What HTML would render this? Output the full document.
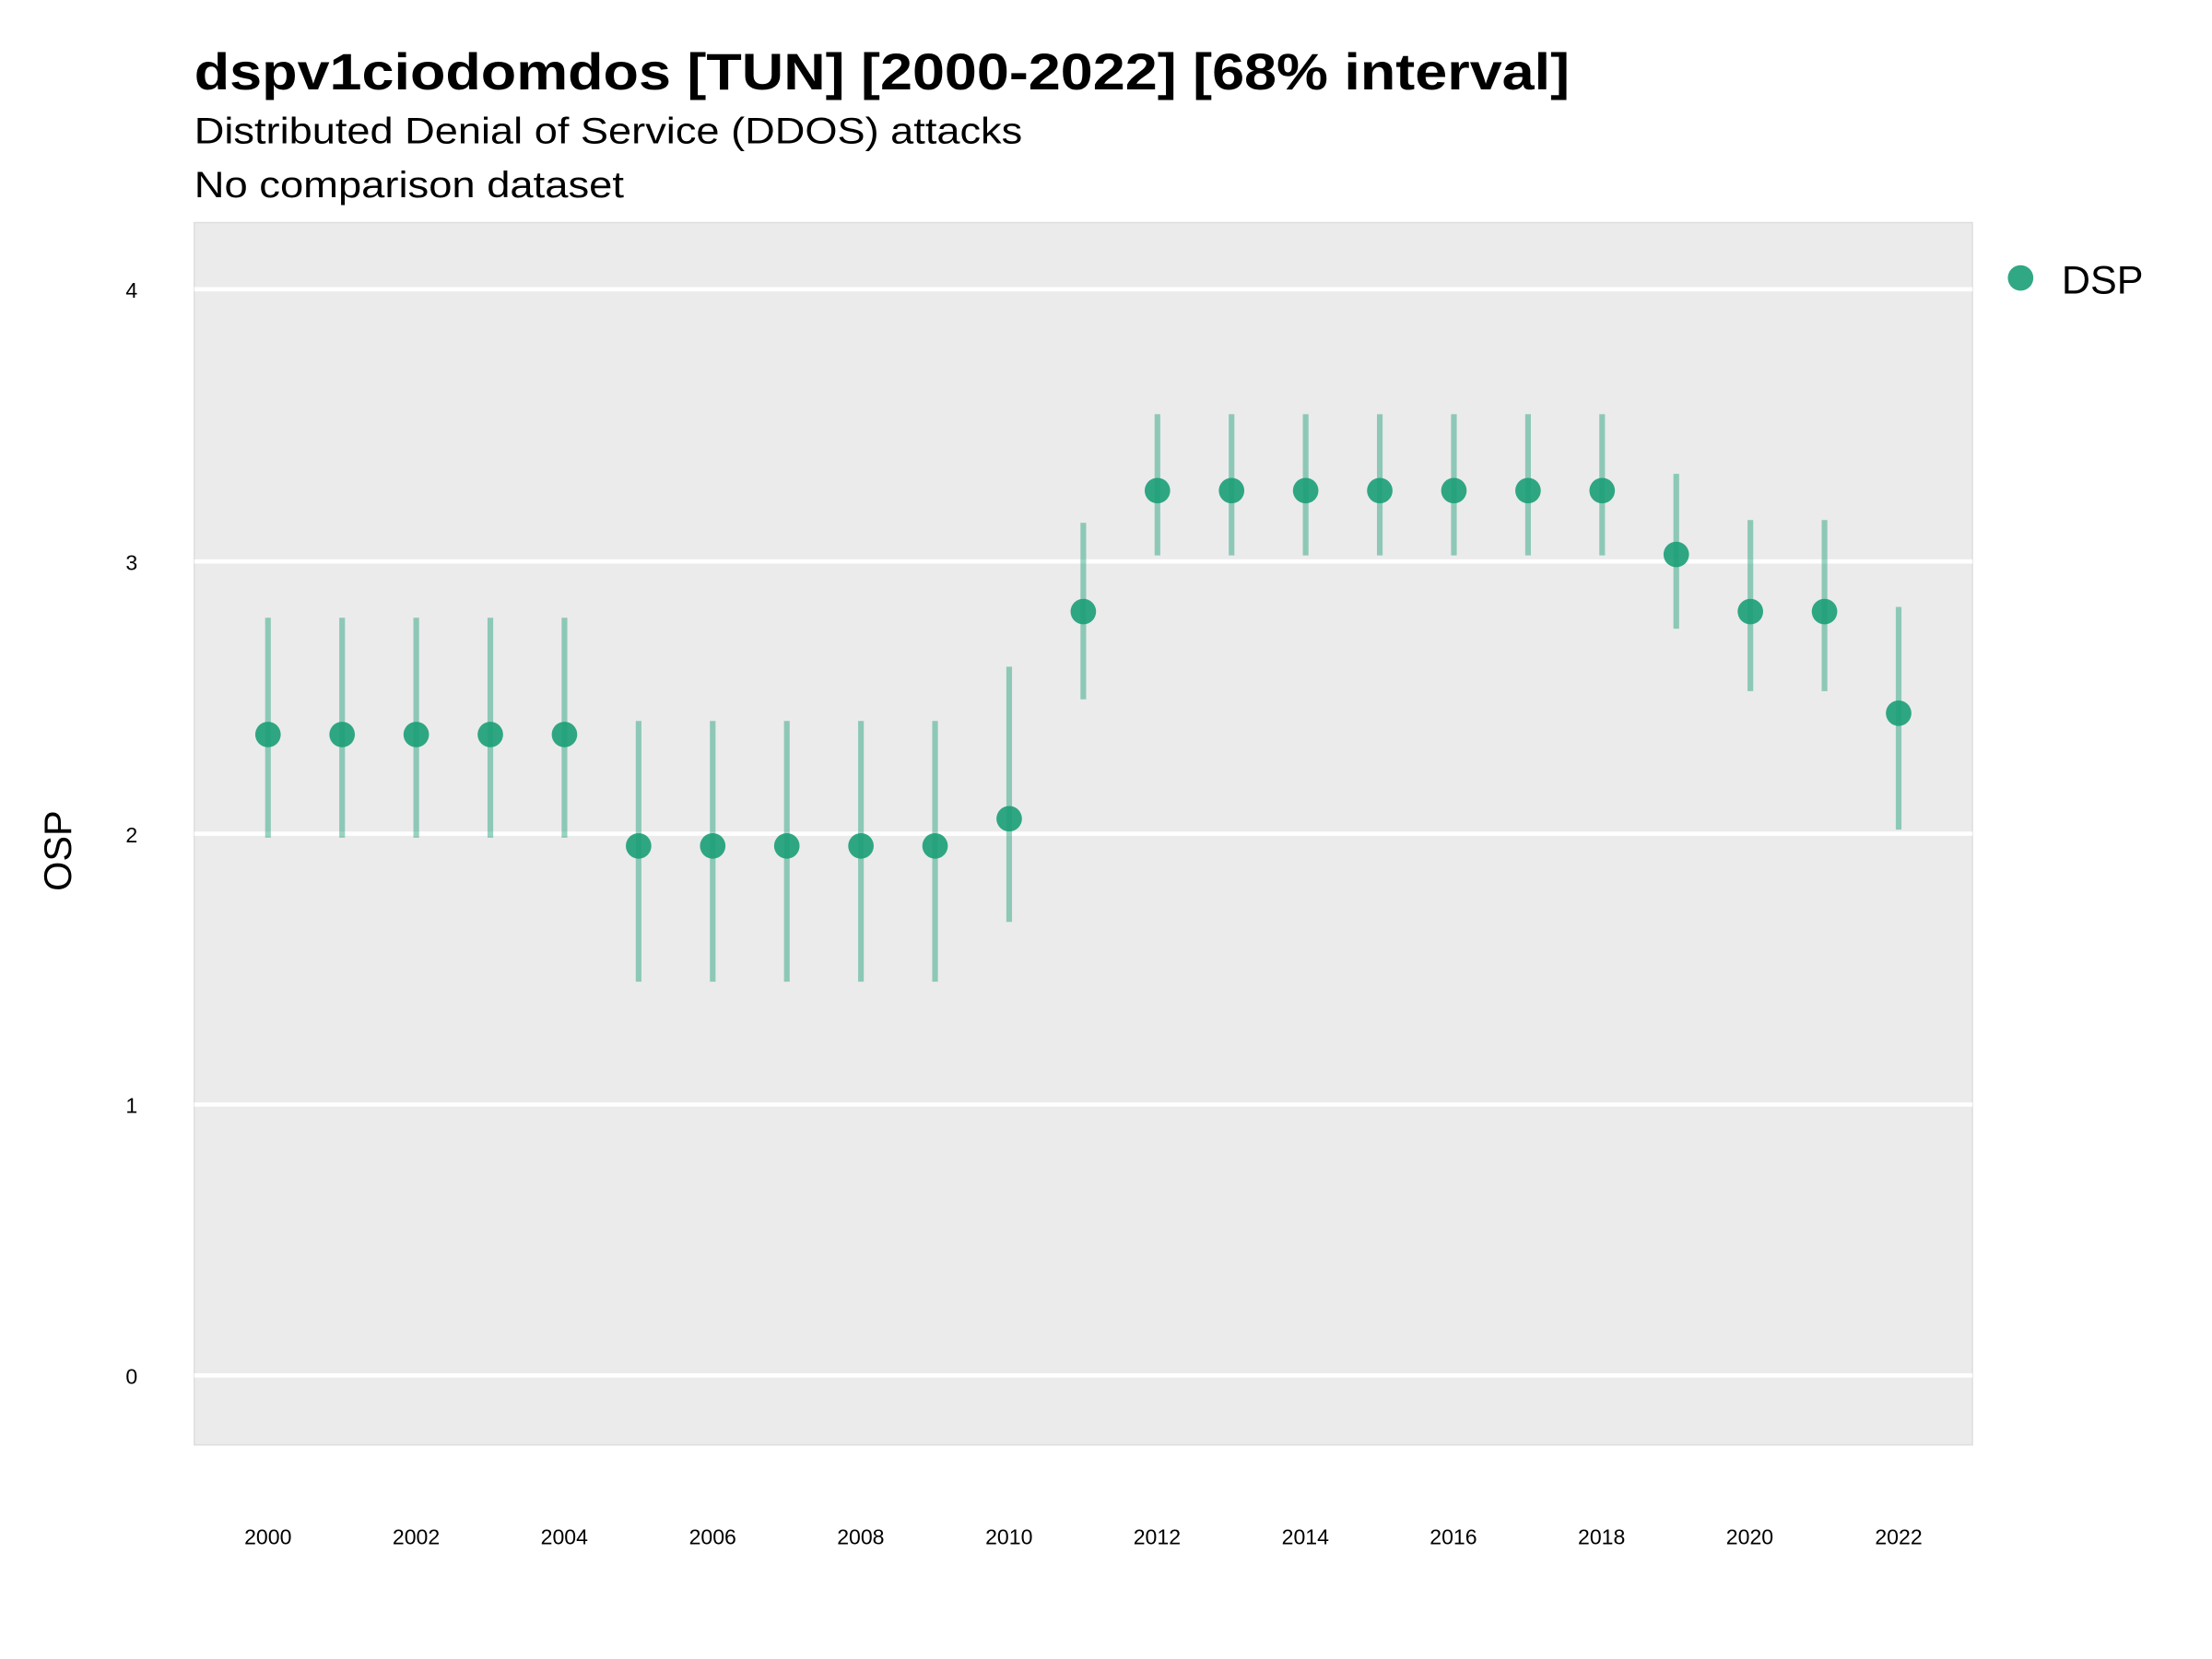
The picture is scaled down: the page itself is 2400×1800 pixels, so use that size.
<!DOCTYPE html>
<html><head><meta charset="utf-8"><style>html,body{margin:0;padding:0;background:#fff}svg{display:block}</style></head>
<body>
<svg width="2400" height="1800" viewBox="0 0 1560 1170" xmlns="http://www.w3.org/2000/svg" font-family="Liberation Sans, sans-serif">
<rect width="1560" height="1170" fill="#fff"/>
<text x="137" y="63" font-size="36" font-weight="bold" textLength="970" lengthAdjust="spacingAndGlyphs">dspv1ciodomdos [TUN] [2000-2022] [68% interval]</text>
<text x="137" y="101" font-size="26" textLength="584" lengthAdjust="spacingAndGlyphs">Distributed Denial of Service (DDOS) attacks</text>
<text x="137" y="139" font-size="26" textLength="303" lengthAdjust="spacingAndGlyphs">No comparison dataset</text>
<rect x="137" y="157" width="1254" height="862" fill="#ebebeb" stroke="#dedede" stroke-width="1"/>
<g stroke="#fff" stroke-width="3">
<line x1="137" x2="1391" y1="204" y2="204"/><line x1="137" x2="1391" y1="396" y2="396"/>
<line x1="137" x2="1391" y1="588" y2="588"/><line x1="137" x2="1391" y1="779" y2="779"/>
<line x1="137" x2="1391" y1="970" y2="970"/>
</g>
<g font-size="15" text-anchor="end">
<text x="97" y="210">4</text><text x="97" y="402">3</text><text x="97" y="594">2</text><text x="97" y="785">1</text><text x="97" y="976">0</text>
</g>
<text transform="translate(50,600) rotate(-90)" font-size="27" text-anchor="middle">OSP</text>
<g font-size="15" text-anchor="middle">
<text x="189" y="1089">2000</text><text x="293.5" y="1089">2002</text><text x="398" y="1089">2004</text><text x="502.6" y="1089">2006</text><text x="607" y="1089">2008</text><text x="711.6" y="1089">2010</text><text x="816" y="1089">2012</text><text x="920.6" y="1089">2014</text><text x="1025" y="1089">2016</text><text x="1129.5" y="1089">2018</text><text x="1234" y="1089">2020</text><text x="1339" y="1089">2022</text>
</g>
<g stroke="#1b9e77" stroke-opacity="0.45" stroke-width="4">
<line x1="189" x2="189" y1="590.8" y2="435.7"/>
<line x1="241.27" x2="241.27" y1="590.8" y2="435.7"/>
<line x1="293.55" x2="293.55" y1="590.8" y2="435.7"/>
<line x1="345.82" x2="345.82" y1="590.8" y2="435.7"/>
<line x1="398.09" x2="398.09" y1="590.8" y2="435.7"/>
<line x1="450.36" x2="450.36" y1="692.3" y2="508.5"/>
<line x1="502.64" x2="502.64" y1="692.3" y2="508.5"/>
<line x1="554.91" x2="554.91" y1="692.3" y2="508.5"/>
<line x1="607.18" x2="607.18" y1="692.3" y2="508.5"/>
<line x1="659.45" x2="659.45" y1="692.3" y2="508.5"/>
<line x1="711.73" x2="711.73" y1="650.2" y2="470.2"/>
<line x1="764" x2="764" y1="493.2" y2="368.7"/>
<line x1="816.27" x2="816.27" y1="391.7" y2="292.1"/>
<line x1="868.55" x2="868.55" y1="391.7" y2="292.1"/>
<line x1="920.82" x2="920.82" y1="391.7" y2="292.1"/>
<line x1="973.09" x2="973.09" y1="391.7" y2="292.1"/>
<line x1="1025.36" x2="1025.36" y1="391.7" y2="292.1"/>
<line x1="1077.64" x2="1077.64" y1="391.7" y2="292.1"/>
<line x1="1129.91" x2="1129.91" y1="391.7" y2="292.1"/>
<line x1="1182.18" x2="1182.18" y1="443.4" y2="334.2"/>
<line x1="1234.45" x2="1234.45" y1="487.4" y2="366.8"/>
<line x1="1286.73" x2="1286.73" y1="487.4" y2="366.8"/>
<line x1="1339" x2="1339" y1="585.1" y2="428"/>
</g>
<g fill="#1b9e77" fill-opacity="0.9">
<circle cx="189" cy="518" r="9"/><circle cx="241.27" cy="518" r="9"/><circle cx="293.55" cy="518" r="9"/><circle cx="345.82" cy="518" r="9"/><circle cx="398.09" cy="518" r="9"/>
<circle cx="450.36" cy="596.6" r="9"/><circle cx="502.64" cy="596.6" r="9"/><circle cx="554.91" cy="596.6" r="9"/><circle cx="607.18" cy="596.6" r="9"/><circle cx="659.45" cy="596.6" r="9"/>
<circle cx="711.73" cy="577.4" r="9"/><circle cx="764" cy="431.3" r="9"/>
<circle cx="816.27" cy="346" r="9"/><circle cx="868.55" cy="346" r="9"/><circle cx="920.82" cy="346" r="9"/><circle cx="973.09" cy="346" r="9"/><circle cx="1025.36" cy="346" r="9"/><circle cx="1077.64" cy="346" r="9"/><circle cx="1129.91" cy="346" r="9"/>
<circle cx="1182.18" cy="391" r="9"/><circle cx="1234.45" cy="431.3" r="9"/><circle cx="1286.73" cy="431.3" r="9"/><circle cx="1339" cy="503" r="9"/>
</g>
<circle cx="1425" cy="196" r="9" fill="#1b9e77" fill-opacity="0.9"/>
<text x="1454" y="207" font-size="28">DSP</text>
</svg>
</body></html>
